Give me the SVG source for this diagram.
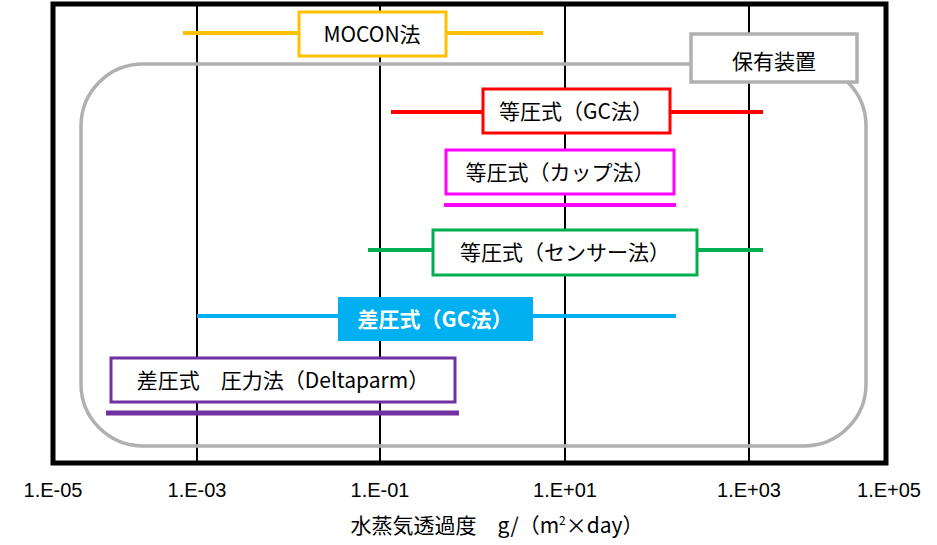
<svg xmlns="http://www.w3.org/2000/svg" width="937" height="545" viewBox="0 0 937 545">
<style>
text{font-family:"Noto Sans CJK JP","Noto Sans",sans-serif;font-size:21px;fill:#000;text-anchor:middle}
.ax{font-family:"Liberation Sans",sans-serif;font-size:20px}
.grid{stroke:#000;stroke-width:2}
.bx{fill:#fff;stroke-width:3}
.ln{stroke-width:4}
</style>
<rect width="937" height="545" fill="#fff"/>
<g id="grid">
<line class="grid" x1="197" y1="5" x2="197" y2="463"/>
<line class="grid" x1="380" y1="5" x2="380" y2="463"/>
<line class="grid" x1="565" y1="5" x2="565" y2="463"/>
<line class="grid" x1="749" y1="5" x2="749" y2="463"/>
</g>
<rect id="frame" x="53" y="4" width="833" height="459" fill="none" stroke="#000" stroke-width="5"/>
<g id="equipment">
<rect x="81" y="64" width="785" height="382" rx="62" fill="none" stroke="#b0b0b0" stroke-width="3.5"/>
<rect x="691" y="34" width="166" height="48" fill="#fff" stroke="#b0b0b0" stroke-width="3.5"/>
<text x="774" y="69" font-size="25">保有装置</text>
</g>
<g id="connectors">
<line class="ln" x1="183" y1="33" x2="543" y2="33" stroke="#FFC000"/>
<line class="ln" x1="391" y1="112" x2="763" y2="112" stroke="#FF0000"/>
<line class="ln" x1="444" y1="205" x2="676" y2="205" stroke="#FF00FF"/>
<line class="ln" x1="368" y1="250" x2="763" y2="250" stroke="#00B050"/>
<line class="ln" x1="197" y1="316" x2="676" y2="316" stroke="#00B0F0"/>
<line x1="106" y1="413" x2="459" y2="413" stroke="#7030A0" stroke-width="5"/>
</g>
<g id="mocon"><rect class="bx" x="299" y="12" width="147" height="44" stroke="#FFC000"/><text x="372" y="42" font-size="19">MOCON法</text></g>
<g id="gc"><rect class="bx" x="483" y="89" width="187" height="44" stroke="#FF0000"/><text x="576" y="119">等圧式（GC法）</text></g>
<g id="cup"><rect class="bx" x="446" y="150" width="228" height="44" stroke="#FF00FF"/><text x="560" y="180">等圧式（カップ法）</text></g>
<g id="sensor"><rect class="bx" x="433" y="230" width="264" height="45" stroke="#00B050"/><text x="565" y="260">等圧式（センサー法）</text></g>
<g id="dgc"><rect x="338" y="297" width="195" height="44" fill="#00B0F0"/><text x="435" y="327" font-weight="bold" style="fill:#fff">差圧式（GC法）</text></g>
<g id="delta"><rect class="bx" x="111" y="358" width="344" height="44" stroke="#7030A0"/><text x="283" y="388">差圧式　圧力法（Deltaparm）</text></g>
<g id="axis">
<text class="ax" x="53" y="497">1.E-05</text>
<text class="ax" x="197" y="497">1.E-03</text>
<text class="ax" x="380" y="497">1.E-01</text>
<text class="ax" x="565" y="497">1.E+01</text>
<text class="ax" x="749" y="497">1.E+03</text>
<text class="ax" x="889" y="497">1.E+05</text>
<text x="497" y="533" font-size="20">水蒸気透過度　g/（m<tspan font-size="12" dy="-8">2</tspan><tspan dy="8">×day）</tspan></text>
</g>
</svg>
